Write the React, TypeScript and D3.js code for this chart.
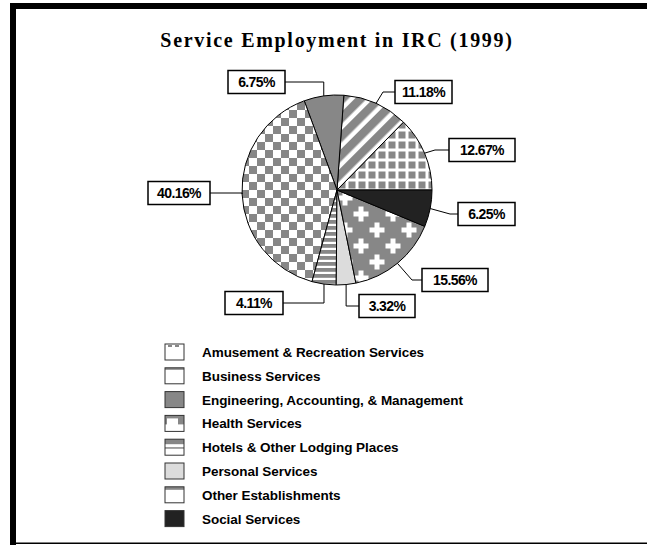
import React from "react";
import * as d3 from "d3";

const categories = [
  "Amusement & Recreation Services",
  "Business Services",
  "Engineering, Accounting, & Management",
  "Health Services",
  "Hotels & Other Lodging Places",
  "Personal Services",
  "Other Establishments",
  "Social Services",
];
const shares = [12.67, 11.18, 6.75, 40.16, 4.11, 3.32, 15.56, 6.25];
const valueLabels = ["12.67%", "11.18%", "6.75%", "40.16%", "4.11%", "3.32%", "15.56%", "6.25%"];
const fills = [
  "url(#pGrid)",
  "url(#pDiag)",
  "#878787",
  "url(#pCheck)",
  "url(#pHoriz)",
  "#dcdcdc",
  "url(#pCross)",
  "#222222",
];

// label box layout (top-left, width) and connector style
const labelLayout = [
  { x: 449, y: 138.5, w: 66, side: "left", bend: 14 },
  { x: 395, y: 80.5, w: 57, side: "left", bend: 12 },
  { x: 228, y: 70.5, w: 57, side: "right", bend: null },
  { x: 148, y: 181.5, w: 62, side: "right", bend: null },
  { x: 225, y: 291.5, w: 58, side: "right", bend: null },
  { x: 359, y: 294.5, w: 56, side: "left", bend: null },
  { x: 422, y: 268.5, w: 66, side: "left", bend: 10 },
  { x: 458, y: 202.5, w: 57, side: "left", bend: 8 },
];

const GRAY = "#878787";
const swatchBase = ["#fff", "#fff", GRAY, "#fff", "#fff", "#dcdcdc", "#fff", "#222222"];
const swatchMarks: number[][][] = [
  [[3, 1, 4, 2], [10, 1, 4, 2]],
  [[0, 0, 19, 2]],
  [],
  [[0, 0, 19, 3], [0, 0, 2, 9], [13, 0, 6, 9]],
  [[0, 0, 19, 5], [0, 8, 19, 1.5]],
  [],
  [[0, 0, 19, 3]],
  [],
];

const W = 647;
const H = 545;
const cx = 337;
const cy = 190;
const R = 95;
const BOX_H = 23;

export default function App() {
  const pie = d3
    .pie<number>()
    .sort(null)
    .value((d) => d)
    .startAngle(Math.PI / 2)
    .endAngle(Math.PI / 2 - 2 * Math.PI);
  const arcs = pie(shares);
  const arc = d3.arc<d3.PieArcDatum<number>>().innerRadius(0).outerRadius(R);
  const edge = d3.arc<d3.PieArcDatum<number>>().innerRadius(R).outerRadius(R);

  return (
    <div style={{ position: "fixed", left: 0, top: 0, background: "#fff" }}>
      <svg width={W} height={H} style={{ display: "block" }}>
        <defs>
          <pattern id="pGrid" patternUnits="userSpaceOnUse" width={10} height={10}>
            <rect width={10} height={10} fill="#fff" />
            <rect x={1.5} y={1.5} width={7} height={7} fill={GRAY} />
          </pattern>
          <pattern id="pDiag" patternUnits="userSpaceOnUse" width={13} height={13} patternTransform="rotate(45)">
            <rect width={13} height={13} fill="#fff" />
            <rect x={0} y={0} width={8.5} height={13} fill={GRAY} />
          </pattern>
          <pattern id="pCheck" patternUnits="userSpaceOnUse" width={16} height={16}>
            <rect width={16} height={16} fill="#fff" />
            <rect x={0} y={0} width={8} height={8} fill={GRAY} />
            <rect x={8} y={8} width={8} height={8} fill={GRAY} />
          </pattern>
          <pattern id="pHoriz" patternUnits="userSpaceOnUse" width={6} height={6}>
            <rect width={6} height={6} fill="#fff" />
            <rect x={0} y={0} width={6} height={3.8} fill={GRAY} />
          </pattern>
          <pattern id="pCross" patternUnits="userSpaceOnUse" width={32} height={32}>
            <rect width={32} height={32} fill={GRAY} />
            {[
              [8, 8],
              [24, 24],
              [40, 8],
              [8, 40],
              [-8, 24],
              [24, -8],
            ].map(([px, py], i) => (
              <g key={i} fill="#fff">
                <rect x={px - 7.5} y={py - 2.5} width={15} height={5} />
                <rect x={px - 2.5} y={py - 7.5} width={5} height={15} />
              </g>
            ))}
          </pattern>
        </defs>

        {/* frame */}
        <rect x={10} y={3} width={W - 10} height={6} fill="#000" />
        <rect x={10} y={3} width={6} height={H - 3} fill="#000" />
        <rect x={10} y={542.5} width={W - 10} height={1.5} fill="#000" />

        <text
          x={337}
          y={47}
          textAnchor="middle"
          fontFamily="'Liberation Serif', 'Times New Roman', serif"
          fontWeight="bold"
          fontSize={20}
          letterSpacing={1.7}
          fill="#000"
        >
          Service Employment in IRC (1999)
        </text>

        <g transform={`translate(${cx},${cy})`}>
          {arcs.map((a, i) => (
            <path key={i} d={arc(a) || ""} fill={fills[i]} stroke="#000" strokeWidth={1} />
          ))}
        </g>

        {arcs.map((a, i) => {
          const [ex, ey] = edge.centroid(a);
          const ax = cx + ex;
          const ay = cy + ey;
          const L = labelLayout[i];
          const by = L.y + BOX_H / 2;
          const bx = L.side === "left" ? L.x : L.x + L.w;
          const kx = L.bend == null ? ax : L.side === "left" ? bx - L.bend : bx + L.bend;
          const path = d3.path();
          path.moveTo(bx, by);
          path.lineTo(kx, by);
          path.lineTo(ax, ay);
          return (
            <g key={i}>
              <path d={path.toString()} fill="none" stroke="#000" strokeWidth={1} />
              <rect x={L.x} y={L.y} width={L.w} height={BOX_H} fill="#fff" stroke="#000" strokeWidth={1.5} />
              <text
                x={L.x + L.w / 2}
                y={by + 5}
                textAnchor="middle"
                fontFamily="'Liberation Sans', Arial, sans-serif"
                fontWeight="bold"
                fontSize={14}
                letterSpacing={-0.6}
                fill="#000"
              >
                {valueLabels[i]}
              </text>
            </g>
          );
        })}

        {categories.map((c, i) => {
          const y = 344 + i * 23.8;
          return (
            <g key={c} transform={`translate(165,${y})`}>
              <rect x={0} y={0} width={19} height={16} fill={swatchBase[i]} />
              {swatchMarks[i].map((m, j) => (
                <rect key={j} x={m[0]} y={m[1]} width={m[2]} height={m[3]} fill={GRAY} />
              ))}
              <rect x={0} y={0} width={19} height={16} fill="none" stroke="#333" strokeWidth={1} />
              <text
                x={37}
                y={13}
                fontFamily="'Liberation Sans', Arial, sans-serif"
                fontWeight="bold"
                fontSize={13.5}
                letterSpacing={-0.05}
                fill="#000"
              >
                {c}
              </text>
            </g>
          );
        })}
      </svg>
    </div>
  );
}
